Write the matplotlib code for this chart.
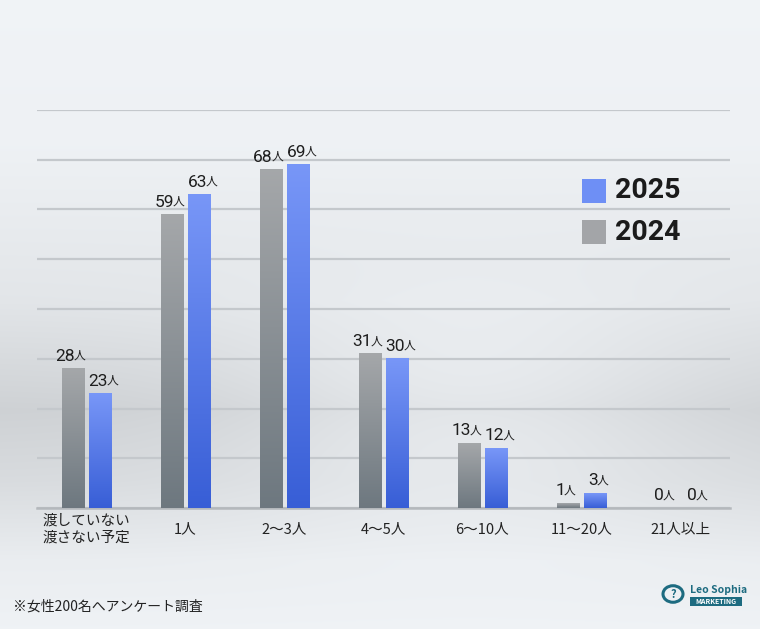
import numpy as np
import matplotlib.pyplot as plt
from matplotlib.patches import Rectangle, Circle

plt.rcParams['font.family'] = ['Noto Sans CJK JP', 'DejaVu Sans']

categories = ['渡していない\n渡さない予定', '1人', '2〜3人', '4〜5人', '6〜10人', '11〜20人', '21人以上']
v2024 = [28, 59, 68, 31, 13, 1, 0]
v2025 = [23, 63, 69, 30, 12, 3, 0]
unit = '人'

W, H = 760, 629
fig = plt.figure(figsize=(W / 100, H / 100), dpi=100)

# background gradient (light, darker band around the lower part)
bg = fig.add_axes([0, 0, 1, 1], zorder=-10)
yy = np.arange(H)
xx = np.arange(W)
prof = np.interp(yy, [0, 150, 300, 410, 480, 560, 629],
                 [0.955, 0.945, 0.90, 0.82, 0.86, 0.93, 0.95])
band = np.exp(-((yy - 410) / 110.0) ** 2)
light = np.exp(-((xx - 470) / 230.0) ** 2)
lum = prof[:, None] + 0.08 * band[:, None] * light[None, :]
img = np.dstack([lum - 0.012, lum, lum + 0.012]).clip(0, 1)
bg.imshow(img, extent=[0, W, H, 0], aspect='auto')
bg.set_xlim(0, W)
bg.set_ylim(H, 0)
bg.axis('off')

ax = fig.add_axes([37 / W, 1 - 508 / H, 693 / W, 398 / H])
ax.patch.set_alpha(0)
x = np.arange(len(categories))
bw = 0.225
off = 0.14

gray_top, gray_bot = np.array([0.645, 0.655, 0.665]), np.array([0.43, 0.47, 0.50])
blue_top, blue_bot = np.array([0.47, 0.59, 0.97]), np.array([0.22, 0.37, 0.84])

def grad(top, bot):
    t = np.linspace(0, 1, 64)[:, None]
    g = top[None, :] * (1 - t) + bot[None, :] * t
    return g[:, None, :]

bars24 = ax.bar(x - off, v2024, bw, color='none', zorder=3)
bars25 = ax.bar(x + off, v2025, bw, color='none', zorder=3)
for bars, top, bot in [(bars24, gray_top, gray_bot), (bars25, blue_top, blue_bot)]:
    for r in bars:
        h = r.get_height()
        if h <= 0:
            continue
        x0 = r.get_x()
        ax.imshow(grad(top, bot), extent=[x0, x0 + r.get_width(), 0, h],
                  aspect='auto', zorder=3, interpolation='bilinear')

# value labels: number + small 人
for xs, vals, dx in [(x - off, v2024, -5.5), (x + off, v2025, -1.5)]:
    for xi, v in zip(xs, vals):
        t = ax.annotate(str(v), xy=(xi, v), xytext=(dx, 3.5), textcoords='offset points',
                        ha='center', va='bottom', fontsize=12.5, family='Roboto',
                        color='#1e1e1e', zorder=5)
        ax.annotate(unit, xy=(1, 0.12), xycoords=t, xytext=(-0.8, 0), textcoords='offset points',
                    ha='left', va='bottom', fontsize=8.5, color='#1e1e1e', zorder=5)

ax.set_xlim(-0.5, len(categories) - 0.5)
ax.set_ylim(0, 80)
ax.set_yticks(np.arange(0, 81, 10))
ax.yaxis.grid(True, color='#c4c8cc', linewidth=1.6)
ax.set_axisbelow(True)
for s in ['top', 'right', 'left']:
    ax.spines[s].set_visible(False)
ax.spines['bottom'].set_color('#b4b8bc')
ax.spines['bottom'].set_linewidth(1.8)
ax.tick_params(axis='y', left=False, labelleft=False)
ax.set_xticks(x)
ax.set_xticklabels(categories, fontsize=10.5, color='#222222', linespacing=1.25)
ax.tick_params(axis='x', length=0, pad=15)
for lab in ax.get_xticklabels():
    lab.set_va('center')

# legend
def fx(px):
    return px / W

def fy(py):
    return 1 - py / H

fig.patches.append(Rectangle((fx(582), fy(203)), 24 / W, 24 / H, transform=fig.transFigure,
                             facecolor='#6e8ff5', edgecolor='none', zorder=6))
fig.patches.append(Rectangle((fx(582), fy(244)), 24 / W, 24 / H, transform=fig.transFigure,
                             facecolor='#a3a5a8', edgecolor='none', zorder=6))
fig.text(fx(615), fy(191), '2025', fontsize=20.5, fontweight='bold', family='Roboto',
         color='#1b1b1b', va='center')
fig.text(fx(615), fy(232), '2024', fontsize=20.5, fontweight='bold', family='Roboto',
         color='#1b1b1b', va='center')

# footnote
fig.text(fx(13), fy(607), '※女性200名へアンケート調査', fontsize=10, color='#222222', va='center')

# logo
teal = '#1d6b80'
fig.patches.append(Circle((fx(673), fy(594)), 10 / W, transform=fig.transFigure,
                          facecolor='none', edgecolor=teal, linewidth=2.2))
fig.text(fx(673), fy(594), '?', fontsize=8, fontweight='bold', color=teal, ha='center', va='center')
fig.text(fx(690), fy(590), 'Leo Sophia', fontsize=7.5, fontweight='bold', color=teal, va='center')
fig.patches.append(Rectangle((fx(690), fy(606)), 52 / W, 9 / H, transform=fig.transFigure,
                             facecolor=teal, edgecolor='none'))
fig.text(fx(716), fy(601.5), 'MARKETING', fontsize=5, fontweight='bold', color='white',
         ha='center', va='center')

fig.savefig('out.png', dpi=100)
